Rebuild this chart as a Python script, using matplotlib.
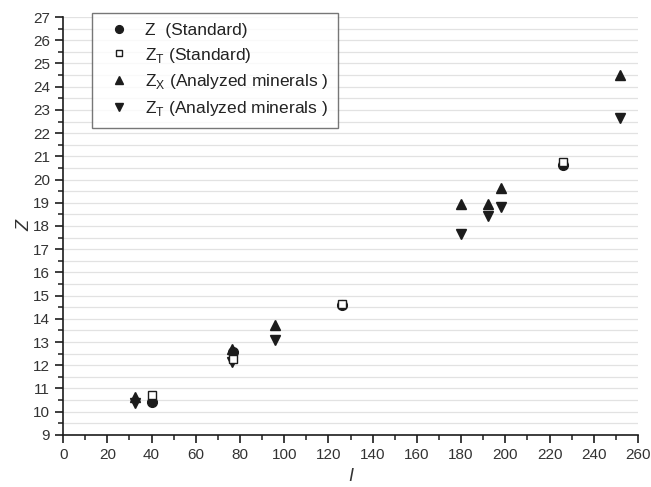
import numpy as np
import matplotlib.pyplot as plt
from matplotlib.ticker import MultipleLocator

plt.rcParams['font.family'] = ['Liberation Sans', 'DejaVu Sans']
plt.rcParams['mathtext.fontset'] = 'custom'
plt.rcParams['mathtext.rm'] = 'Liberation Sans'

# Z (Standard)
I_std = [40, 77, 126, 226]
Z_std = [10.43, 12.58, 14.6, 20.62]
# Z_T (Standard)
ZT_std = [10.7, 12.25, 14.66, 20.75]

# Analyzed minerals
I_min = [32.5, 76.5, 96, 180, 192, 198, 252]
ZX_min = [10.62, 12.72, 13.72, 18.95, 18.95, 19.65, 24.5]
ZT_min = [10.38, 12.16, 13.08, 17.65, 18.45, 18.8, 22.65]

ink = "#1c1c1c"

fig = plt.figure(figsize=(6.51, 4.87), dpi=100)
ax = fig.add_axes([0.097, 0.107, 0.883, 0.858])

ax.plot(I_std, Z_std, 'o', color=ink, ms=7, ls="none", label="Z  (Standard)", zorder=3)
ax.plot(I_std, ZT_std, 's', mfc="white", mec=ink, mew=1.0, ms=6, ls="none",
        label="Z$_\\mathregular{T}$ (Standard)", zorder=4)
ax.plot(I_min, ZX_min, '^', color=ink, ms=7, ls="none",
        label="Z$_\\mathregular{X}$ (Analyzed minerals )", zorder=3)
ax.plot(I_min, ZT_min, 'v', color=ink, ms=7, ls="none",
        label="Z$_\\mathregular{T}$ (Analyzed minerals )", zorder=3)

ax.set_xlim(0, 260)
ax.set_ylim(9, 27)
ax.xaxis.set_major_locator(MultipleLocator(20))
ax.xaxis.set_minor_locator(MultipleLocator(10))
ax.yaxis.set_major_locator(MultipleLocator(1))
ax.yaxis.set_minor_locator(MultipleLocator(0.5))
ax.grid(True, which="both", axis="y", color="#e2e2e2", lw=0.9)
ax.set_axisbelow(True)

for s in ["top", "right"]:
    ax.spines[s].set_visible(False)
for s in ["left", "bottom"]:
    ax.spines[s].set_color(ink)
    ax.spines[s].set_linewidth(1.2)
ax.tick_params(which="major", direction="out", length=6, width=1.2, colors=ink,
               labelsize=11, labelcolor="#333333")
ax.tick_params(which="minor", direction="out", length=3.5, width=1.1, colors=ink)

ax.set_xlabel("I", fontsize=13, style="italic", color="#333333", labelpad=4)
ax.set_ylabel("Z", fontsize=13, style="italic", color="#333333", labelpad=0)

leg = ax.legend(loc="upper left", bbox_to_anchor=(0.05, 1.0096), borderaxespad=0,
                fontsize=12.5, frameon=True, fancybox=False, edgecolor="#555555",
                markerscale=0.8, handletextpad=0.5, labelspacing=0.45, borderpad=0.55,
                handlelength=2.0)
leg.get_frame().set_linewidth(1.0)
for t in leg.get_texts():
    t.set_color("#222222")

fig.savefig("out.png", dpi=100)
